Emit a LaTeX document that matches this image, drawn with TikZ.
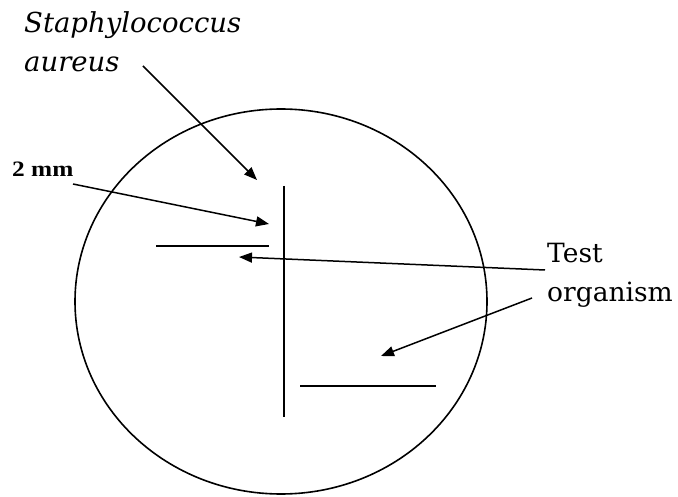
\documentclass[tikz,border=0pt]{standalone}
\usepackage{fontspec}
\setmainfont{DejaVu Serif}
\newfontfamily\labfont{Liberation Serif}
\usetikzlibrary{arrows.meta}
\begin{document}
\begin{tikzpicture}[x=1pt,y=-1pt,
  ln/.style={line width=1.6pt,black},
  arr/.style={line width=1.5pt,-{Triangle[length=13pt,width=10pt]}},
  lbl/.style={inner sep=0pt,anchor=base west}]
\useasboundingbox (0,0) rectangle (678,497);
% plate
\draw[ln] (281,301.5) ellipse [x radius=206, y radius=192.5];
% streaks
\coordinate (v1) at (284,186);
\coordinate (v2) at (284,417);
\coordinate (h1a) at (156,246);
\coordinate (h1b) at (269,246);
\coordinate (h2a) at (300,386);
\coordinate (h2b) at (436,386);
\draw[ln] (v1) -- (v2);
\draw[ln] (h1a) -- (h1b);
\draw[ln] (h2a) -- (h2b);
% labels
\node[lbl,font=\itshape\fontsize{27.5}{30}\selectfont] (staph) at (24,33) {Staphylococcus};
\node[lbl,font=\itshape\fontsize{27.5}{30}\selectfont] (aur) at (24,72) {aureus};
\node[lbl,font=\labfont\bfseries\fontsize{22}{24}\selectfont] (mm) at (12,177) {\scalebox{1.15}[1]{2 mm}};
\node[lbl,font=\fontsize{26.5}{30}\selectfont] (test) at (547,263) {Test};
\node[lbl,font=\fontsize{26.5}{30}\selectfont] (org) at (547,302) {organism};
% arrow ends
\coordinate (sA) at (143,66);
\coordinate (sB) at (257,180);
\coordinate (mA) at (73,184);
\coordinate (mB) at (269,224);
\coordinate (tA) at (545,270);
\coordinate (tB) at (239,257);
\coordinate (oA) at (532,298);
\coordinate (oB) at (381,356);
\draw[arr] (sA) -- (sB);
\draw[arr] (mA) -- (mB);
\draw[arr] (tA) -- (tB);
\draw[arr] (oA) -- (oB);
\end{tikzpicture}
\end{document}
